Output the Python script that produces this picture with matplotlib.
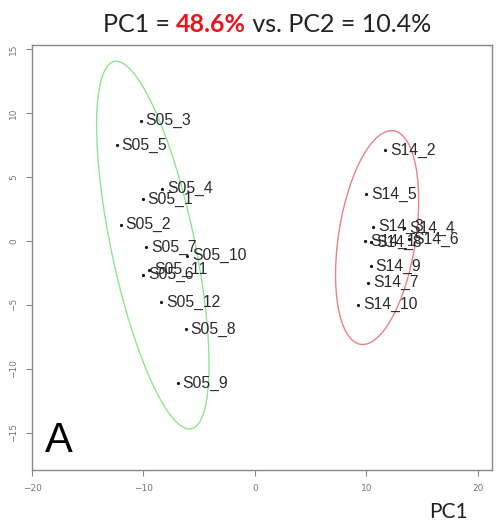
import numpy as np
import matplotlib
matplotlib.use("Agg")
import matplotlib.pyplot as plt
from matplotlib.patches import Ellipse

# ---- data ----
s05_labels = ["S05_1", "S05_2", "S05_3", "S05_4", "S05_5", "S05_6",
              "S05_7", "S05_8", "S05_9", "S05_10", "S05_11", "S05_12"]
s05_x = [-10.07, -12.05, -10.25, -8.3, -12.4, -10.0, -9.78, -6.2, -6.93, -6.07, -9.5, -8.4]
s05_y = [3.25, 1.25, 9.4, 4.06, 7.45, -2.65, -0.5, -6.9, -11.1, -1.17, -2.27, -4.8]

s14_labels = ["S14_1", "S14_2", "S14_3", "S14_4", "S14_5", "S14_6",
              "S14_7", "S14_8", "S14_9", "S14_10"]
s14_x = [9.87, 11.66, 10.6, 13.4, 10.0, 13.8, 10.17, 10.4, 10.38, 9.27]
s14_y = [-0.05, 7.1, 1.1, 1.0, 3.64, 0.15, -3.26, -0.1, -2.0, -5.0]

x_ticks = [-20, -10, 0, 10, 20]
y_ticks = [-15, -10, -5, 0, 5, 10, 15]

title_parts = [("PC1 = ", "#222222", "normal"), ("48.6%", "#e8141e", "bold"),
               (" vs. PC2 = 10.4%", "#222222", "normal")]

# ---- figure ----
W, H = 497, 523
fig = plt.figure(figsize=(W / 100, H / 100), dpi=100)
ax = fig.add_axes([32 / W, 1 - 470 / H, (492 - 32) / W, (470 - 45) / H])

ax.set_xlim(-20.0, 21.26)
ax.set_ylim(-17.9, 15.3)


def conf_ellipse(xs, ys, color):
    xs = np.asarray(xs); ys = np.asarray(ys)
    cov = np.cov(xs, ys)
    vals, vecs = np.linalg.eigh(cov)
    order = vals.argsort()[::-1]
    vals, vecs = vals[order], vecs[:, order]
    ang = np.degrees(np.arctan2(vecs[1, 0], vecs[0, 0]))
    k = np.sqrt(5.991)
    e = Ellipse((xs.mean(), ys.mean()), 2 * k * np.sqrt(vals[0]), 2 * k * np.sqrt(vals[1]),
                angle=ang, fill=False, edgecolor=color, lw=1.0)
    ax.add_patch(e)


conf_ellipse(s05_x, s05_y, "#8ee68e")
conf_ellipse(s14_x, s14_y, "#ec7f86")

for xs, ys, labs in [(s05_x, s05_y, s05_labels), (s14_x, s14_y, s14_labels)]:
    ax.plot(xs, ys, "o", color="#111111", ms=2.3, mec="none")
    for x, y, l in zip(xs, ys, labs):
        ax.annotate(l, (x, y), xytext=(3.5, 0), textcoords="offset points",
                    va="center", ha="left", fontsize=11.3, color="#2a2a2a",
                    family="Liberation Sans")

for s in ax.spines.values():
    s.set_color("#888888")
    s.set_linewidth(1.0)

ax.set_xticks(x_ticks)
ax.set_yticks(y_ticks)
ax.tick_params(direction="out", length=4, width=0.8, color="#888888",
               labelsize=6.5, labelcolor="#777777", pad=6)
for lab in ax.get_yticklabels():
    lab.set_rotation(90)
    lab.set_va("center")

ax.text(45 / W, 1 - 452 / H, "A", transform=fig.transFigure, fontsize=30,
        family="Liberation Sans", color="black", ha="left", va="baseline")

fig.text(448 / W, 1 - 512 / H, "PC1", fontsize=15, family="Lato",
         color="#222222", ha="center", va="center")

# multi-color title
fig.canvas.draw()
renderer = fig.canvas.get_renderer()
texts = []
for s, c, w in title_parts:
    texts.append(fig.text(0, 1 - 32 / H, s, fontsize=18, family="Lato", color=c,
                          weight=w, ha="left", va="baseline"))
widths = [t.get_window_extent(renderer).width for t in texts]
total = sum(widths)
x0 = 267 - total / 2
for t, w in zip(texts, widths):
    t.set_x(x0 / W)
    x0 += w

fig.savefig("out.png", dpi=100)
